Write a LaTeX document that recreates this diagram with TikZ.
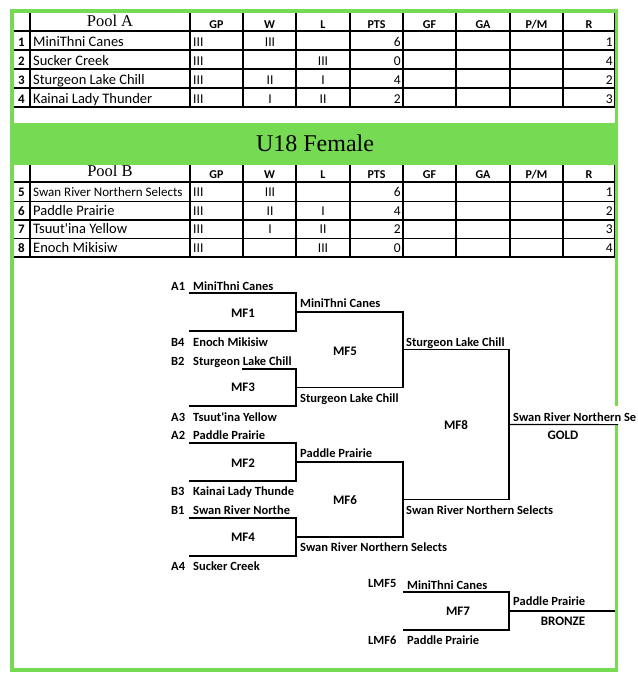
\documentclass[tikz,border=0pt]{standalone}
\usepackage{fontspec}
\setmainfont{Carlito}
\newfontfamily\timesfont{Liberation Serif}
\usetikzlibrary{positioning}
\definecolor{poolgreen}{RGB}{118,219,82}

\begin{document}
\begin{tikzpicture}[x=1pt, y=-1pt,
        grid/.style={draw=black, line width=1.2pt},
        line/.style={draw=black, line width=1.2pt},
        head/.style={font=\bfseries\fontsize{12}{14}\selectfont, anchor=base, inner sep=0pt},
        pool/.style={font=\timesfont\fontsize{16.5}{18}\selectfont, anchor=base, inner sep=0pt},
        num/.style={font=\bfseries\fontsize{13}{15}\selectfont, anchor=base, inner sep=0pt},
        team/.style={font=\fontsize{14.5}{16}\selectfont, anchor=base west, inner sep=0pt},
        tally/.style={font=\fontsize{13.5}{15}\selectfont, inner sep=0pt},
        seed/.style={font=\bfseries\fontsize{12.5}{14}\selectfont, anchor=base west, inner sep=0pt},
        match/.style={font=\bfseries\fontsize{13}{15}\selectfont, anchor=base, inner sep=0pt}]

    \useasboundingbox (0,0) rectangle (638,689);
    \clip (0,0) rectangle (638,689);

    % pool tables
    \foreach \x in {13,30,190,243,296,350,403,456,510,563,615}
        \draw [grid] (\x,12) -- (\x,107) (\x,164) -- (\x,257);
    \foreach \y in {12,31,50,69,88,107,164,182,201.5,220,238.5,257}
        \draw [grid] (13,\y) -- (615,\y);
    \foreach \x/\t in {216.5/GP, 269.5/W, 323/L, 376.5/PTS, 429.5/GF, 483/GA, 536.5/{P/M}, 589/R} {
        \node [head] (ha\t) at (\x,28) {\t};
        \node [head] (hb\t) at (\x,178) {\t};
    }
    \node [pool] (poola) at (110,26) {Pool A};
    \node [pool] (poolb) at (110,176.7) {Pool B};

    \foreach \n/\name/\gp/\w/\l/\pts/\r [count=\i] in {
            1/MiniThni Canes/III/III//6/1,
            2/Sucker Creek/III//III/0/4,
            3/Sturgeon Lake Chill/III/II/I/4/2,
            4/Kainai Lady Thunder/III/I/II/2/3,
            5/{\fontsize{13}{15}\selectfont Swan River Northern Selects}/III/III//6/1,
            6/Paddle Prairie/III/II/I/4/2,
            7/Tsuut\textquotesingle ina Yellow/III/I/II/2/3,
            8/Enoch Mikisiw/III//III/0/4} {
        \pgfmathsetmacro\yb{\i<5 ? 46.7+19*(\i-1) : 196.5+18.5*(\i-5)}
        \node [num] (n\n) at (21.5,\yb) {\n};
        \node [team] (t\n) at (33,\yb) {\name};
        \node [tally, anchor=base west] (gp\n) at (193,\yb) {\gp};
        \node [tally, anchor=base] (w\n) at (270,\yb) {\w};
        \node [tally, anchor=base] (l\n) at (323,\yb) {\l};
        \node [tally, anchor=base east] (pts\n) at (401,\yb) {\pts};
        \node [tally, anchor=base east] (r\n) at (613,\yb) {\r};
    }

    % outer frame and title band
    \fill [poolgreen] (11.8,123) rectangle (616.5,164.6);
    \draw [poolgreen, line width=3.6pt] (11.8,10.8) rectangle (616.5,670);
    \node [font=\timesfont\fontsize{24}{28}\selectfont, anchor=base, inner sep=0pt] (title) at (315,151.7) {U18 Female};

    % bracket
    \foreach \s/\t/\y in {A1/MiniThni Canes/290, B4/Enoch Mikisiw/346, B2/Sturgeon Lake Chill/365,
            A3/Tsuut\textquotesingle ina Yellow/421, A2/Paddle Prairie/439, B3/Kainai Lady Thunde/495,
            B1/Swan River Northe/514, A4/Sucker Creek/570} {
        \node [seed] (s\s) at (171,\y) {\s};
        \node [seed] (e\s) at (193,\y) {\t};
    }
    \foreach \xt/\xb/\xr/\yt/\ybot in {189/189/296/293/331, 242/189/296/369/406,
            189/189/296/443/481, 189/189/296/518/556, 296/296/403/312/387.5,
            296/296/403/462/537, 403/403/509/349.75/499.5, 403/403/509/592/630}
        \draw [line] (\xt,\yt) -| (\xr,\ybot) -- (\xb,\ybot);

    \foreach \m/\x/\y in {MF1/243/317, MF3/243/391, MF2/243/467, MF4/243/541,
            MF5/345/355, MF6/345/504, MF8/456/429, MF7/458/615}
        \node [match] (\m) at (\x,\y) {\m};

    \node [seed] (win1) at (300,307) {MiniThni Canes};
    \node [seed] (win3) at (300,402) {Sturgeon Lake Chill};
    \node [seed] (win2) at (300,457) {Paddle Prairie};
    \node [seed] (win4) at (300,551) {Swan River Northern Selects};
    \node [seed] (win5) at (406,346) {Sturgeon Lake Chill};
    \node [seed] (win6) at (406,514) {Swan River Northern Selects};
    \node [seed, fill=white, text height=15pt, text depth=3pt] (win8) at (513,421) {Swan River Northern Se};
    \node [match] (gold) at (563,439) {GOLD};
    \coordinate (goldend) at (618,424.6);
    \draw [line] (MF8 -| 509,424.6) -- (goldend);

    \node [seed] (lmf5) at (368,587.5) {LMF5};
    \node [seed] (lose5) at (407,589.5) {MiniThni Canes};
    \node [seed] (lmf6) at (368,644) {LMF6};
    \node [seed] (lose6) at (407,644) {Paddle Prairie};
    \node [seed] (win7) at (513,605.5) {Paddle Prairie};
    \node [match] (bronze) at (563,625) {BRONZE};
    \coordinate (bronzeend) at (614.5,611);
    \draw [line] (509,611) -- (bronzeend);
\end{tikzpicture}
\end{document}
